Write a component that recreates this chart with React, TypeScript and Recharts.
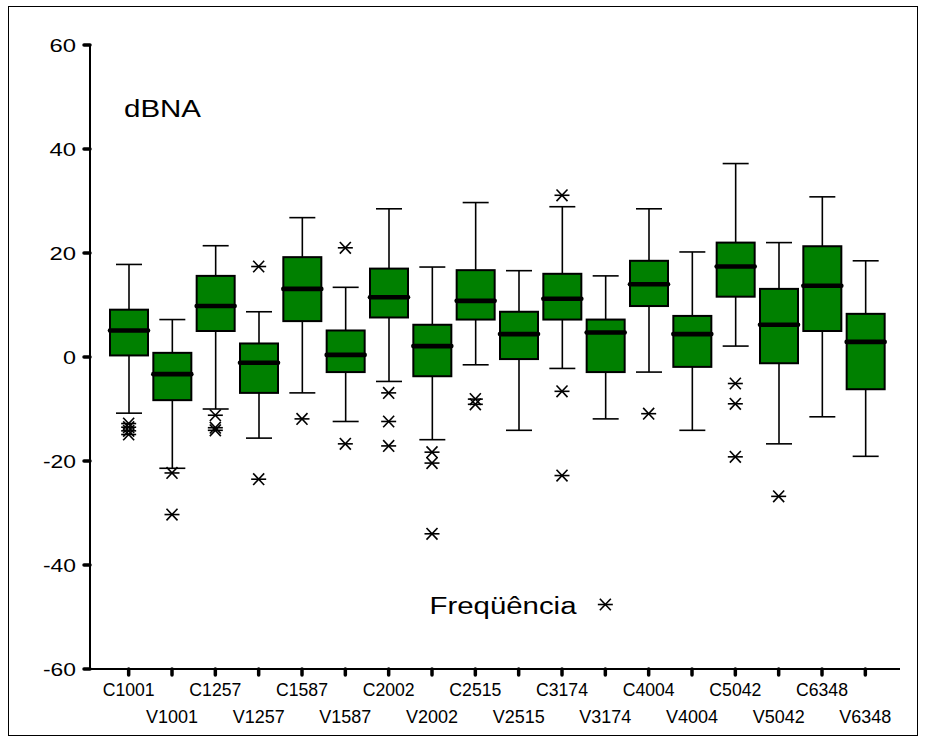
import { ComposedChart, Bar, Scatter, XAxis, YAxis } from "recharts"

// box plot of dBNA per frequency band (C = ?, V = ?)
const categories = [
    "C1001", "V1001", "C1257", "V1257", "C1587", "V1587", "C2002", "V2002", "C2515",
    "V2515", "C3174", "V3174", "C4004", "V4004", "C5042", "V5042", "C6348", "V6348",
]
const mins = [-10.8, -21.4, -10.0, -15.6, -6.9, -12.4, -4.7, -15.9, -1.5, -14.1, -2.2, -11.9, -2.9, -14.1, 2.1, -16.7, -11.5, -19.1]
const q1s = [0.3, -8.3, 5.0, -6.9, 6.9, -2.9, 7.6, -3.7, 7.2, -0.4, 7.2, -2.9, 9.8, -1.9, 11.6, -1.2, 5.0, -6.2]
const medians = [5.1, -3.3, 9.8, -1.1, 13.1, 0.4, 11.5, 2.1, 10.8, 4.4, 11.2, 4.7, 14.0, 4.4, 17.4, 6.2, 13.7, 2.9]
const q3s = [9.1, 0.8, 15.6, 2.6, 19.2, 5.1, 17.0, 6.2, 16.7, 8.7, 16.0, 7.2, 18.5, 7.9, 22.0, 13.1, 21.3, 8.3]
const maxs = [17.8, 7.2, 21.4, 8.7, 26.8, 13.4, 28.5, 17.3, 29.7, 16.6, 28.9, 15.6, 28.5, 20.2, 37.2, 22.0, 30.8, 18.5]
const outliers = [
    [-12.8, -13.5, -14.2, -14.9],
    [-22.3, -30.3],
    [-11.2, -13.6, -14.1],
    [17.4, -23.5],
    [-11.9],
    [21.0, -16.7],
    [-6.9, -12.4, -17.1],
    [-18.3, -20.4, -34.0],
    [-8.1, -9.1],
    [],
    [31.1, -6.6, -22.8],
    [-47.6],
    [-10.9],
    [],
    [-5.1, -9.0, -19.2],
    [-26.8],
    [],
    [],
]
const yTicks = [-60, -40, -20, 0, 20, 40, 60]

const boxData = categories.map((name, i) => ({
    name,
    range: [mins[i], maxs[i]],
    min: mins[i],
    q1: q1s[i],
    med: medians[i],
    q3: q3s[i],
    max: maxs[i],
}))
const outlierData = categories.flatMap((name, i) => outliers[i].map((value) => ({ name, value })))

const FONT = "Arial, 'Liberation Sans', Helvetica, sans-serif"

const BoxShape = (props: any) => {
    const { x, y, width, height, payload } = props
    const top = Math.min(y, y + height)
    const h = Math.abs(height)
    const span = payload.max - payload.min
    const py = (v: number) => top + (h * (payload.max - v)) / span
    const cx = x + width / 2
    const yq3 = py(payload.q3)
    const yq1 = py(payload.q1)
    const ym = py(payload.med)
    return (
        <g>
            <line x1={cx} x2={cx} y1={top} y2={yq3} stroke="#000" strokeWidth={1.6} />
            <line x1={cx} x2={cx} y1={yq1} y2={top + h} stroke="#000" strokeWidth={1.6} />
            <line x1={cx - 13} x2={cx + 13} y1={top} y2={top} stroke="#000" strokeWidth={1.6} />
            <line x1={cx - 13} x2={cx + 13} y1={top + h} y2={top + h} stroke="#000" strokeWidth={1.6} />
            <rect x={x} y={yq3} width={width} height={yq1 - yq3} fill="#008000" stroke="#000" strokeWidth={2} />
            <line x1={x} x2={x + width} y1={ym} y2={ym} stroke="#000" strokeWidth={4.6} strokeLinecap="round" />
        </g>
    )
}

const Star = (props: any) => {
    const { cx, cy } = props
    if (cx == null || cy == null) return null
    return (
        <g stroke="#000" strokeWidth={1.6}>
            <line x1={cx - 7.5} x2={cx + 7.5} y1={cy} y2={cy} />
            <line x1={cx - 5.5} x2={cx + 5.5} y1={cy - 5.8} y2={cy + 5.8} />
            <line x1={cx - 5.5} x2={cx + 5.5} y1={cy + 5.8} y2={cy - 5.8} />
        </g>
    )
}

const XTick = (props: any) => {
    const { x, y, payload, index } = props
    const second = index % 2 === 1
    return (
        <text
            x={x}
            y={y + (second ? 46 : 19)}
            textAnchor="middle"
            fontSize={18}
            fontFamily={FONT}
            fill="#000"
            textLength={52}
            lengthAdjust="spacingAndGlyphs"
        >
            {payload.value}
        </text>
    )
}

const YTick = (props: any) => {
    const { x, y, payload } = props
    const s = String(payload.value)
    const len = s.length === 1 ? 13 : s.length === 2 ? 26.5 : 33
    return (
        <text
            x={x - 6}
            y={y + 7}
            textAnchor="end"
            fontSize={19}
            fontFamily={FONT}
            fill="#000"
            textLength={len}
            lengthAdjust="spacingAndGlyphs"
        >
            {s}
        </text>
    )
}

export default function App() {
    return (
        <div
            style={{
                position: "absolute",
                left: 8,
                top: 6,
                width: 910,
                height: 730,
                border: "1px solid #000",
                boxSizing: "border-box",
                background: "#fff",
            }}
        >
            <div style={{ position: "absolute", left: 0, top: 0 }}>
                <ComposedChart
                    width={908}
                    height={728}
                    data={boxData}
                    margin={{ top: 38, right: 17, bottom: 0, left: 0 }}
                >
                    <XAxis
                        dataKey="name"
                        type="category"
                        allowDuplicatedCategory={false}
                        interval={0}
                        height={66}
                        padding={{ left: 17, right: 13 }}
                        tickSize={6}
                        tickLine={{ stroke: "#000", strokeWidth: 3.5, strokeLinecap: "round" }}
                        axisLine={{ stroke: "#000", strokeWidth: 2 }}
                        tick={XTick}
                    />
                    <XAxis
                        xAxisId="top"
                        orientation="top"
                        dataKey="name"
                        type="category"
                        allowDuplicatedCategory={false}
                        height={0}
                        tick={false}
                        tickLine={false}
                        axisLine={{ stroke: "#000", strokeWidth: 1.2 }}
                    />
                    <YAxis
                        type="number"
                        domain={[-60, 60]}
                        ticks={yTicks}
                        interval={0}
                        width={81}
                        allowDataOverflow
                        tickSize={6}
                        tickLine={{ stroke: "#000", strokeWidth: 3.5, strokeLinecap: "round" }}
                        axisLine={{ stroke: "#000", strokeWidth: 2 }}
                        tick={YTick}
                    />
                    <YAxis
                        yAxisId="right"
                        orientation="right"
                        type="number"
                        domain={[-60, 60]}
                        width={0}
                        tick={false}
                        tickLine={false}
                        axisLine={{ stroke: "#000", strokeWidth: 1.2 }}
                    />
                    <Bar dataKey="range" barSize={38} shape={BoxShape} isAnimationActive={false} />
                    <Scatter data={outlierData} dataKey="value" shape={Star} isAnimationActive={false} />
                </ComposedChart>
            </div>
            <svg width={908} height={728} style={{ position: "absolute", left: 0, top: 0, pointerEvents: "none" }}>
                <text x={115} y={110} fontSize={23.5} fontFamily={FONT} fill="#000" textLength={77} lengthAdjust="spacingAndGlyphs">
                    dBNA
                </text>
                <text x={420.5} y={607} fontSize={23.5} fontFamily={FONT} fill="#000" textLength={147} lengthAdjust="spacingAndGlyphs">
                    Freqüência
                </text>
            </svg>
        </div>
    )
}
